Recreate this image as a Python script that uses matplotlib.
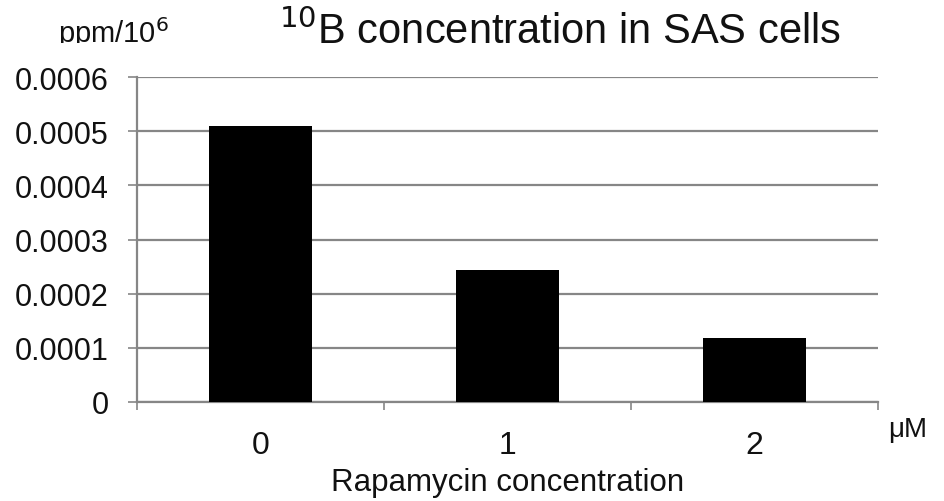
import numpy as np
import matplotlib.pyplot as plt
from matplotlib.patches import Rectangle

# data
doses = ['0', '1', '2']
boron = [0.000509, 0.000243, 0.000118]
yticks = [0, 0.0001, 0.0002, 0.0003, 0.0004, 0.0005, 0.0006]
ylabels = ['0', '0.0001', '0.0002', '0.0003', '0.0004', '0.0005', '0.0006']

plt.rcParams['font.family'] = ['Liberation Sans', 'DejaVu Sans']
grey = '#868686'
ink = '#111111'

fig = plt.figure(figsize=(9.45, 5.02), dpi=100)
ax = fig.add_axes([137 / 945, 1 - 403 / 502, (878 - 137) / 945, (403 - 78) / 502])

x = np.arange(len(doses))
ax.bar(x, boron, width=0.415, color='black', zorder=3)

ax.set_xlim(-0.5, len(doses) - 0.5)
ax.set_ylim(0, 0.0006)
ax.set_yticks(yticks)
ax.set_yticklabels(ylabels, fontsize=22, color=ink)
ax.set_xticks(x)
ax.set_xticklabels(doses, fontsize=23, color=ink)
ax.set_xticks(np.arange(len(doses) + 1) - 0.5, minor=True)

ax.grid(axis='y', color=grey, linewidth=1.6, zorder=0)
for s in ['top', 'right']:
    ax.spines[s].set_visible(False)
for s in ['left', 'bottom']:
    ax.spines[s].set_color(grey)
    ax.spines[s].set_linewidth(1.6)

ax.tick_params(axis='y', length=6.5, width=1.2, color=grey, pad=14)
ax.tick_params(axis='x', which='major', length=0, pad=20)
ax.tick_params(axis='x', which='minor', length=6, width=1.2, color=grey)

ax.set_xlabel('Rapamycin concentration', fontsize=22.5, color=ink, labelpad=5)

fig.text(279 / 945, 1 - 44 / 502, '$^{10}$B concentration in SAS cells',
         fontsize=30, color=ink, ha='left', va='baseline')
unit = fig.text(58 / 945, 1 - 43 / 502, 'ppm/10$^{6}$', fontsize=21, color=ink,
                ha='left', va='baseline')
# the unit label is cut off at its baseline in the original
unit.set_clip_path(Rectangle((0, 1 - 44 / 502), 0.3, 44 / 502,
                             transform=fig.transFigure))
fig.text(888 / 945, 1 - 437 / 502, 'μM', fontsize=20, color=ink,
         ha='left', va='baseline')

fig.savefig('out.png', dpi=100)
